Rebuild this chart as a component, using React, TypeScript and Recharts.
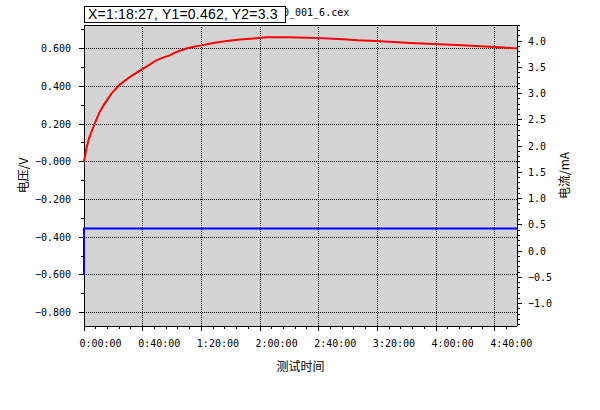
import React from 'react';
import { LineChart, Line, XAxis, YAxis, CartesianGrid, ReferenceLine } from 'recharts';

// Test time in minutes
const redTimes = [0, 1.6, 3.4, 5.5, 7.3, 10.7, 14.1, 18.7, 24.4, 31.2, 40.3, 44.8, 49.4, 53.9, 58.5, 63.0, 69.9, 75.6, 80.1, 88.1, 97.2, 106.3, 115.4, 124.5, 139.5, 163, 177, 186.5, 199, 211, 223, 238.5, 254, 267.5, 280, 291, 295.2];
// Voltage (V)
const redVoltage = [0, 0.07, 0.123, 0.167, 0.202, 0.264, 0.308, 0.361, 0.409, 0.449, 0.494, 0.515, 0.538, 0.552, 0.564, 0.582, 0.6, 0.611, 0.617, 0.63, 0.64, 0.648, 0.653, 0.66, 0.66, 0.655, 0.649, 0.644, 0.64, 0.635, 0.63, 0.624, 0.619, 0.614, 0.608, 0.603, 0.602];

const blueTimes = [0, 0, 295.2];
// Current (mA)
const blueCurrent = [-0.45, 0.43, 0.43];

const xDomain = [0, 295.2];
const leftDomain = [-0.871, 0.725];
const rightDomain = [-1.426, 4.305];

const xMajorTicks = [0, 40, 80, 120, 160, 200, 240, 280];
const xTickLabels = ['0:00:00', '0:40:00', '1:20:00', '2:00:00', '2:40:00', '3:20:00', '4:00:00', '4:40:00'];
const xMinorTicks = [8, 16, 24, 32, 48, 56, 64, 72, 88, 96, 104, 112, 128, 136, 144, 152, 168, 176, 184, 192, 208, 216, 224, 232, 248, 256, 264, 272, 288];

const leftMajorTicks = [0.6, 0.4, 0.2, 0, -0.2, -0.4, -0.6, -0.8];
const leftTickLabels = ['0.600', '0.400', '0.200', '−0.000', '−0.200', '−0.400', '−0.600', '−0.800'];
const leftMinorTicks = [0.7, 0.5, 0.3, 0.1, -0.1, -0.3, -0.5, -0.7];

const rightMajorTicks = [4.0, 3.5, 3.0, 2.5, 2.0, 1.5, 1.0, 0.5, 0.0, -0.5, -1.0];
const rightTickLabels = ['4.0', '3.5', '3.0', '2.5', '2.0', '1.5', '1.0', '0.5', '0.0', '−0.5', '−1.0'];
const rightMinorTicks = [4.3, 4.2, 4.1, 3.9, 3.8, 3.7, 3.6, 3.4, 3.3, 3.2, 3.1, 2.9, 2.8, 2.7, 2.6, 2.4, 2.3, 2.2, 2.1, 1.9, 1.8, 1.7, 1.6, 1.4, 1.3, 1.2, 1.1, 0.9, 0.8, 0.7, 0.6, 0.4, 0.3, 0.2, 0.1, -0.1, -0.2, -0.3, -0.4, -0.6, -0.7, -0.8, -0.9, -1.1, -1.2, -1.3, -1.4];

const cursorText = 'X=1:18:27, Y1=0.462, Y2=3.3';
const fileText = '0_001_6.cex';

const redData = redTimes.map((t, i) => ({ t, v: redVoltage[i] }));
const blueData = blueTimes.map((t, i) => ({ t, c: blueCurrent[i] }));

const MONO = '"DejaVu Sans Mono", "Liberation Mono", monospace';
const CJK = '"Noto Sans CJK SC", "Noto Sans", sans-serif';

const findIdx = (arr: number[], v: number) => arr.findIndex((a) => Math.abs(a - v) < 1e-6);

const LeftTick = (props: any) => {
  const { x, y, payload } = props;
  const idx = findIdx(leftMajorTicks, payload.value);
  const major = idx >= 0;
  return (
    <g>
      <line x1={x} y1={y} x2={x - (major ? 5 : 3)} y2={y} stroke="#000" shapeRendering="crispEdges" />
      {major && (
        <text x={x - 13} y={y} dy="0.36em" textAnchor="end" fontFamily={MONO} fontSize={10} fill="#000">
          {leftTickLabels[idx]}
        </text>
      )}
    </g>
  );
};

const RightTick = (props: any) => {
  const { x, y, payload } = props;
  const idx = findIdx(rightMajorTicks, payload.value);
  const major = idx >= 0;
  return (
    <g>
      <line x1={x} y1={y} x2={x + (major ? 5 : 3)} y2={y} stroke="#000" shapeRendering="crispEdges" />
      {major && (
        <text x={x + 11} y={y} dy="0.36em" textAnchor="start" fontFamily={MONO} fontSize={10} fill="#000">
          {rightTickLabels[idx]}
        </text>
      )}
    </g>
  );
};

const BottomTick = (props: any) => {
  const { x, y, payload } = props;
  const idx = findIdx(xMajorTicks, payload.value);
  const major = idx >= 0;
  return (
    <g>
      <line x1={x} y1={y} x2={x} y2={y + (major ? 5 : 3)} stroke="#000" shapeRendering="crispEdges" />
      {major && (
        <text x={x - 4.5} y={y + 21} textAnchor="start" fontFamily={MONO} fontSize={10} fill="#000">
          {xTickLabels[idx]}
        </text>
      )}
    </g>
  );
};

const leftTitle = (props: any) => {
  const vb = props.viewBox || {};
  const cx = vb.x + 24;
  const cy = vb.y + vb.height / 2;
  return (
    <text x={cx} y={cy} transform={`rotate(-90 ${cx} ${cy})`} textAnchor="middle" dy="0.36em" fontFamily={CJK} fontSize={12} fill="#000">
      电压/V
    </text>
  );
};

const rightTitle = (props: any) => {
  const vb = props.viewBox || {};
  const cx = vb.x + 48;
  const cy = vb.y + vb.height / 2;
  return (
    <text x={cx} y={cy} transform={`rotate(-90 ${cx} ${cy})`} textAnchor="middle" dy="0.36em" fontFamily={CJK} fontSize={12} fill="#000">
      电流/mA
    </text>
  );
};

const bottomTitle = (props: any) => {
  const vb = props.viewBox || {};
  const cx = vb.x + vb.width / 2;
  const cy = vb.y + 40.5;
  return (
    <text x={cx} y={cy} textAnchor="middle" dy="0.36em" fontFamily={CJK} fontSize={12} fill="#000">
      测试时间
    </text>
  );
};

export default function App() {
  return (
    <div style={{ position: 'absolute', left: 0, top: 0, width: 600, height: 410, background: '#fff' }}>
      <LineChart width={600} height={410} margin={{ top: 25, right: 0, bottom: 0, left: 0 }}>
        <CartesianGrid horizontal={false} vertical={false} fill="#d3d3d3" stroke="none" />
        <XAxis
          dataKey="t"
          type="number"
          domain={xDomain}
          ticks={[...xMajorTicks, ...xMinorTicks]}
          interval={0}
          tickSize={0}
          tickMargin={0}
          tickLine={false}
          tick={<BottomTick />}
          axisLine={false}
          height={84}
          label={{ content: bottomTitle }}
        />
        <YAxis
          yAxisId="left"
          orientation="left"
          type="number"
          domain={leftDomain}
          ticks={[...leftMajorTicks, ...leftMinorTicks]}
          interval={0}
          tickSize={0}
          tickMargin={0}
          tickLine={false}
          tick={<LeftTick />}
          axisLine={false}
          width={84}
          label={{ content: leftTitle }}
        />
        <YAxis
          yAxisId="right"
          orientation="right"
          type="number"
          domain={rightDomain}
          ticks={[...rightMajorTicks, ...rightMinorTicks]}
          interval={0}
          tickSize={0}
          tickMargin={0}
          tickLine={false}
          tick={<RightTick />}
          axisLine={false}
          width={83}
          label={{ content: rightTitle }}
        />
        {leftMajorTicks.map((v) => (
          <ReferenceLine key={'h' + v} yAxisId="left" y={v} stroke="#000" strokeDasharray="1 1" shapeRendering="crispEdges" />
        ))}
        {xMajorTicks.slice(1).map((v) => (
          <ReferenceLine key={'v' + v} yAxisId="left" x={v} stroke="#000" strokeDasharray="1 1" shapeRendering="crispEdges" />
        ))}
        <ReferenceLine yAxisId="left" y={leftDomain[1]} stroke="#000" shapeRendering="crispEdges" />
        <ReferenceLine yAxisId="left" y={leftDomain[0]} stroke="#000" shapeRendering="crispEdges" />
        <ReferenceLine yAxisId="left" x={xDomain[0]} stroke="#000" shapeRendering="crispEdges" />
        <ReferenceLine yAxisId="left" x={xDomain[1]} stroke="#000" shapeRendering="crispEdges" />
        <Line
          yAxisId="left"
          data={redData}
          dataKey="v"
          type="linear"
          stroke="#ff0000"
          strokeWidth={2}
          dot={false}
          isAnimationActive={false}
          {...({ zIndex: 800 } as any)}
        />
        <Line
          yAxisId="right"
          data={blueData}
          dataKey="c"
          type="linear"
          stroke="#0000ff"
          strokeWidth={2}
          dot={false}
          isAnimationActive={false}
          {...({ zIndex: 800 } as any)}
        />
      </LineChart>
      <div
        style={{
          position: 'absolute',
          left: 283,
          top: 7,
          fontFamily: MONO,
          fontSize: 10,
          lineHeight: '12px',
          color: '#000',
          whiteSpace: 'nowrap',
        }}
      >
        {fileText}
      </div>
      <div
        style={{
          position: 'absolute',
          left: 84,
          top: 6,
          width: 197,
          height: 15,
          border: '1px solid #000',
          background: '#fff',
          fontFamily: '"Liberation Sans", Arial, sans-serif',
          fontSize: 14,
          letterSpacing: 0.2,
          lineHeight: '15px',
          paddingLeft: 3,
          boxSizing: 'content-box',
          color: '#000',
          whiteSpace: 'nowrap',
          overflow: 'hidden',
        }}
      >
        {cursorText}
      </div>
    </div>
  );
}
